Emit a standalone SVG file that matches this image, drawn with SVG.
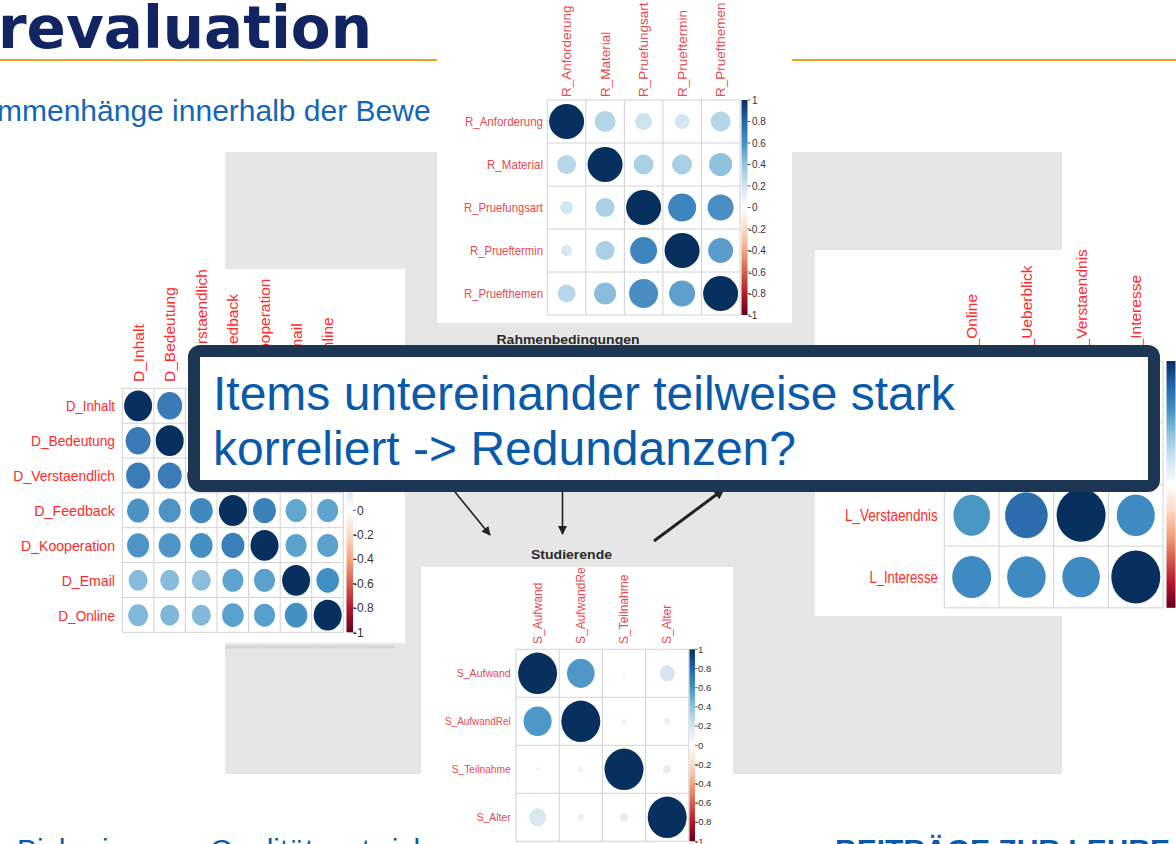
<svg xmlns="http://www.w3.org/2000/svg" width="1176" height="844" viewBox="0 0 1176 844">
<style>
  .lbl { font-family: "Liberation Sans", Arial, sans-serif; fill: #ff2a2a; }
  .lbl2 { font-family: "Liberation Sans", Arial, sans-serif; fill: #e84a4e; }
  .tick { font-family: "Liberation Sans", Arial, sans-serif; fill: #333333; }
  .grid { fill: none; stroke: #d2d2d2; stroke-width: 1; }
  .tk { stroke: #333333; stroke-width: 0.8; }
  .box { fill: #ffffff; }
  .hd { font-family: "Liberation Sans", Arial, sans-serif; font-weight: bold; fill: #2a2a2a; }
  .blue { font-family: "Liberation Sans", Arial, sans-serif; fill: #0a5aaa; }
  .conn { stroke: #222222; fill: none; }
</style>
<defs>
  <linearGradient id="rdbu" x1="0" y1="0" x2="0" y2="1">
    <stop offset="0" stop-color="#053061"/>
    <stop offset="0.1" stop-color="#2166ac"/>
    <stop offset="0.2" stop-color="#4393c3"/>
    <stop offset="0.3" stop-color="#92c5de"/>
    <stop offset="0.4" stop-color="#d1e5f0"/>
    <stop offset="0.5" stop-color="#ffffff"/>
    <stop offset="0.6" stop-color="#fddbc7"/>
    <stop offset="0.7" stop-color="#f4a582"/>
    <stop offset="0.8" stop-color="#d6604d"/>
    <stop offset="0.9" stop-color="#b2182b"/>
    <stop offset="1" stop-color="#67001f"/>
  </linearGradient>
  <marker id="ah" viewBox="0 0 10 10" refX="9" refY="5" markerUnits="userSpaceOnUse" markerWidth="11" markerHeight="9" orient="auto">
    <path d="M0,0 L10,5 L0,10 z" fill="#222222"/>
  </marker>
  <marker id="ah2" viewBox="0 0 10 10" refX="9" refY="5" markerUnits="userSpaceOnUse" markerWidth="14" markerHeight="11" orient="auto">
    <path d="M0,0 L10,5 L0,10 z" fill="#222222"/>
  </marker>
  <clipPath id="clipS"><rect x="421" y="567" width="312" height="277"/></clipPath>
  <clipPath id="clipD"><rect x="0" y="269" width="405" height="374"/></clipPath>
  <clipPath id="clipL"><rect x="815" y="250" width="361" height="366"/></clipPath>
</defs>

<!-- page -->
<rect x="0" y="0" width="1176" height="844" fill="#ffffff"/>

<!-- slide header -->
<g id="header">
  <text x="-2" y="48" font-family="'DejaVu Sans', sans-serif" font-weight="bold" font-size="58" fill="#122562">revaluation</text>
  <line x1="0" y1="60" x2="1176" y2="60" stroke="#f0a020" stroke-width="2"/>
  <text x="-3" y="121" font-family="'Liberation Sans', Arial, sans-serif" font-size="30" fill="#1565b5">mmenhänge innerhalb der Bewe</text>
</g>

<!-- footer line -->
<g id="footer">
  <text class="blue" x="17" y="860" font-size="30">Bisherige</text>
  <text class="blue" x="210" y="860" font-size="30">Qualitätsentwicklung</text>
  <text class="blue" x="835" y="860" font-size="30" font-weight="bold">BEITRÄGE ZUR LEHRE</text>
</g>

<!-- grey canvas behind the plots -->
<rect x="225" y="152" width="837" height="622" fill="#e6e6e6"/>
<line x1="225" y1="647" x2="395" y2="647" stroke="#d6d6d6" stroke-width="3"/>

<!-- Rahmenbedingungen plot -->
<g id="plot-R">
  <rect class="box" x="437" y="0" width="355" height="323"/>
  <path class="grid" d="M547.3,100V315M585.8,100V315M624.4,100V315M662.9,100V315M701.5,100V315M740,100V315M547.3,100H740M547.3,143H740M547.3,186H740M547.3,229H740M547.3,272H740M547.3,315H740"/>
  <g>
    <circle cx="566.6" cy="121.5" r="17.5" fill="#08305f"/>
    <circle cx="605.1" cy="121.5" r="10.5" fill="#b2d5e7"/>
    <circle cx="643.6" cy="121.5" r="8.5" fill="#cde3ef"/>
    <circle cx="682.1" cy="121.5" r="7.5" fill="#d3e6f1"/>
    <circle cx="720.6" cy="121.5" r="10" fill="#b4d6e8"/>
    <circle cx="566.6" cy="164.5" r="9.5" fill="#b8d8e9"/>
    <circle cx="605.1" cy="164.5" r="17.5" fill="#08305f"/>
    <circle cx="643.6" cy="164.5" r="10" fill="#a9d0e4"/>
    <circle cx="682.1" cy="164.5" r="10" fill="#a9d0e4"/>
    <circle cx="720.6" cy="164.5" r="11.5" fill="#8fc2dd"/>
    <circle cx="566.6" cy="207.5" r="6.5" fill="#d3e6f1"/>
    <circle cx="605.1" cy="207.5" r="9.5" fill="#a9d0e4"/>
    <circle cx="643.6" cy="207.5" r="17.5" fill="#08305f"/>
    <circle cx="682.1" cy="207.5" r="14" fill="#3e84bf"/>
    <circle cx="720.6" cy="207.5" r="13" fill="#4a8ec3"/>
    <circle cx="566.6" cy="250.5" r="5.5" fill="#d8e9f2"/>
    <circle cx="605.1" cy="250.5" r="9.5" fill="#a9d0e4"/>
    <circle cx="643.6" cy="250.5" r="13.5" fill="#3e84bf"/>
    <circle cx="682.1" cy="250.5" r="17.5" fill="#08305f"/>
    <circle cx="720.6" cy="250.5" r="12.5" fill="#5a9dcc"/>
    <circle cx="566.6" cy="293.5" r="9" fill="#b8d8e9"/>
    <circle cx="605.1" cy="293.5" r="11" fill="#8abddb"/>
    <circle cx="643.6" cy="293.5" r="14.5" fill="#4a8dc2"/>
    <circle cx="682.1" cy="293.5" r="13" fill="#5f9fcc"/>
    <circle cx="720.6" cy="293.5" r="17.5" fill="#08305f"/>
  </g>
  <g class="lbl2" font-size="13" text-anchor="end">
    <text x="543" y="126" textLength="78" lengthAdjust="spacingAndGlyphs">R_Anforderung</text>
    <text x="543" y="169" textLength="56" lengthAdjust="spacingAndGlyphs">R_Material</text>
    <text x="543" y="212" textLength="79" lengthAdjust="spacingAndGlyphs">R_Pruefungsart</text>
    <text x="543" y="255" textLength="73" lengthAdjust="spacingAndGlyphs">R_Prueftermin</text>
    <text x="543" y="298" textLength="79" lengthAdjust="spacingAndGlyphs">R_Pruefthemen</text>
  </g>
  <g class="lbl2" font-size="13.5">
    <text transform="translate(571.3,97) rotate(-90)">R_Anforderung</text>
    <text transform="translate(609.8,97) rotate(-90)">R_Material</text>
    <text transform="translate(648.3,97) rotate(-90)">R_Pruefungsart</text>
    <text transform="translate(686.8,97) rotate(-90)">R_Prueftermin</text>
    <text transform="translate(725.3,97) rotate(-90)">R_Pruefthemen</text>
  </g>
  <rect x="741.5" y="100" width="6" height="215" fill="url(#rdbu)"/>
  <path class="tk" d="M747.5,100h3M747.5,121.5h3M747.5,143h3M747.5,164.5h3M747.5,186h3M747.5,207.5h3M747.5,229h3M747.5,250.5h3M747.5,272h3M747.5,293.5h3M747.5,315h3"/>
  <g class="tick" font-size="10">
    <text x="752" y="103.5">1</text>
    <text x="752" y="125">0.8</text>
    <text x="752" y="146.5">0.6</text>
    <text x="752" y="168">0.4</text>
    <text x="752" y="189.5">0.2</text>
    <text x="752" y="211">0</text>
    <text x="748.5" y="232.5">-0.2</text>
    <text x="748.5" y="254">-0.4</text>
    <text x="748.5" y="275.5">-0.6</text>
    <text x="748.5" y="297">-0.8</text>
    <text x="748.5" y="318.5">-1</text>
  </g>
</g>

<!-- Dozierende plot -->
<g id="plot-D" clip-path="url(#clipD)">
  <rect class="box" x="0" y="269" width="405" height="374"/>
  <path class="grid" d="M122.3,388.3V632.3M153.9,388.3V632.3M185.4,388.3V632.3M217,388.3V632.3M248.6,388.3V632.3M280.2,388.3V632.3M311.7,388.3V632.3M343.3,388.3V632.3M122.3,388.3H343.3M122.3,423.2H343.3M122.3,458H343.3M122.3,492.9H343.3M122.3,527.7H343.3M122.3,562.6H343.3M122.3,597.4H343.3M122.3,632.3H343.3"/>
  <g>
    <ellipse cx="138.1" cy="405.8" rx="14" ry="15.4" fill="#08305f"/>
    <ellipse cx="169.7" cy="405.8" rx="12.5" ry="13.7" fill="#3a7ab6"/>
    <ellipse cx="201.3" cy="405.8" rx="12" ry="13.2" fill="#3a7cb8"/>
    <ellipse cx="232.9" cy="405.8" rx="11" ry="12.1" fill="#4a92c4"/>
    <ellipse cx="264.5" cy="405.8" rx="11" ry="12.1" fill="#4e95c6"/>
    <ellipse cx="296.1" cy="405.8" rx="9.5" ry="10.5" fill="#86bbdb"/>
    <ellipse cx="327.7" cy="405.8" rx="10" ry="11" fill="#82b8da"/>

    <ellipse cx="138.1" cy="440.7" rx="12.5" ry="13.7" fill="#3a7ab6"/>
    <ellipse cx="169.7" cy="440.7" rx="14" ry="15.4" fill="#08305f"/>
    <ellipse cx="201.3" cy="440.7" rx="12" ry="13.2" fill="#3a7cb8"/>
    <ellipse cx="232.9" cy="440.7" rx="11" ry="12.1" fill="#4d94c5"/>
    <ellipse cx="264.5" cy="440.7" rx="11" ry="12.1" fill="#4f96c6"/>
    <ellipse cx="296.1" cy="440.7" rx="9.5" ry="10.5" fill="#88bcdb"/>
    <ellipse cx="327.7" cy="440.7" rx="9.5" ry="10.5" fill="#7fb7d9"/>

    <ellipse cx="138.1" cy="475.6" rx="12" ry="13.2" fill="#3a7cb8"/>
    <ellipse cx="169.7" cy="475.6" rx="12" ry="13.2" fill="#3a7cb8"/>
    <ellipse cx="201.3" cy="475.6" rx="14" ry="15.4" fill="#08305f"/>
    <ellipse cx="232.9" cy="475.6" rx="11.5" ry="12.6" fill="#3f88c0"/>
    <ellipse cx="264.5" cy="475.6" rx="11.3" ry="12.4" fill="#4590c3"/>
    <ellipse cx="296.1" cy="475.6" rx="9.5" ry="10.5" fill="#8bbedc"/>
    <ellipse cx="327.7" cy="475.6" rx="9.5" ry="10.5" fill="#82b8da"/>

    <ellipse cx="138.1" cy="510.5" rx="11" ry="12.1" fill="#4a92c4"/>
    <ellipse cx="169.7" cy="510.5" rx="11" ry="12.1" fill="#4d94c5"/>
    <ellipse cx="201.3" cy="510.5" rx="11.5" ry="12.6" fill="#3f88c0"/>
    <ellipse cx="232.9" cy="510.5" rx="14" ry="15.4" fill="#08305f"/>
    <ellipse cx="264.5" cy="510.5" rx="11.5" ry="12.6" fill="#3a80bb"/>
    <ellipse cx="296.1" cy="510.5" rx="10.5" ry="11.5" fill="#62a7d0"/>
    <ellipse cx="327.7" cy="510.5" rx="10.5" ry="11.5" fill="#5ea4cf"/>

    <ellipse cx="138.1" cy="545.4" rx="11" ry="12.1" fill="#4e95c6"/>
    <ellipse cx="169.7" cy="545.4" rx="11" ry="12.1" fill="#4f96c6"/>
    <ellipse cx="201.3" cy="545.4" rx="11.3" ry="12.4" fill="#4590c3"/>
    <ellipse cx="232.9" cy="545.4" rx="11.5" ry="12.6" fill="#3a80bb"/>
    <ellipse cx="264.5" cy="545.4" rx="14" ry="15.4" fill="#08305f"/>
    <ellipse cx="296.1" cy="545.4" rx="10.5" ry="11.5" fill="#5ba2ce"/>
    <ellipse cx="327.7" cy="545.4" rx="10.5" ry="11.5" fill="#5aa1ce"/>

    <ellipse cx="138.1" cy="580.3" rx="9.5" ry="10.5" fill="#86bbdb"/>
    <ellipse cx="169.7" cy="580.3" rx="9.5" ry="10.5" fill="#88bcdb"/>
    <ellipse cx="201.3" cy="580.3" rx="9.5" ry="10.5" fill="#8bbedc"/>
    <ellipse cx="232.9" cy="580.3" rx="10.5" ry="11.5" fill="#5ea4cf"/>
    <ellipse cx="264.5" cy="580.3" rx="10.5" ry="11.5" fill="#5aa1ce"/>
    <ellipse cx="296.1" cy="580.3" rx="14" ry="15.4" fill="#08305f"/>
    <ellipse cx="327.7" cy="580.3" rx="11.3" ry="12.4" fill="#4290c3"/>

    <ellipse cx="138.1" cy="615.2" rx="10" ry="11" fill="#82b8da"/>
    <ellipse cx="169.7" cy="615.2" rx="9.5" ry="10.5" fill="#7fb7d9"/>
    <ellipse cx="201.3" cy="615.2" rx="9.5" ry="10.5" fill="#82b8da"/>
    <ellipse cx="232.9" cy="615.2" rx="10.8" ry="11.9" fill="#5aa1ce"/>
    <ellipse cx="264.5" cy="615.2" rx="10.5" ry="11.5" fill="#589fcd"/>
    <ellipse cx="296.1" cy="615.2" rx="11.3" ry="12.4" fill="#4590c3"/>
    <ellipse cx="327.7" cy="615.2" rx="14" ry="15.4" fill="#08305f"/>
  </g>
  <g class="lbl" font-size="15" text-anchor="end">
    <text x="115" y="411" textLength="49" lengthAdjust="spacingAndGlyphs">D_Inhalt</text>
    <text x="115" y="446" textLength="84" lengthAdjust="spacingAndGlyphs">D_Bedeutung</text>
    <text x="115" y="481" textLength="101.7" lengthAdjust="spacingAndGlyphs">D_Verstaendlich</text>
    <text x="115" y="516" textLength="80.7" lengthAdjust="spacingAndGlyphs">D_Feedback</text>
    <text x="115" y="551" textLength="94" lengthAdjust="spacingAndGlyphs">D_Kooperation</text>
    <text x="115" y="585.5" textLength="53.3" lengthAdjust="spacingAndGlyphs">D_Email</text>
    <text x="115" y="620.5" textLength="56.7" lengthAdjust="spacingAndGlyphs">D_Online</text>
  </g>
  <g class="lbl" font-size="15.5">
    <text transform="translate(143.6,382) rotate(-90)">D_Inhalt</text>
    <text transform="translate(175.2,382) rotate(-90)">D_Bedeutung</text>
    <text transform="translate(206.8,382) rotate(-90)">D_Verstaendlich</text>
    <text transform="translate(238.4,382) rotate(-90)">D_Feedback</text>
    <text transform="translate(270,382) rotate(-90)">D_Kooperation</text>
    <text transform="translate(301.6,382) rotate(-90)">D_Email</text>
    <text transform="translate(333.2,382) rotate(-90)">D_Online</text>
  </g>
  <rect x="346.5" y="388.3" width="6.5" height="244" fill="url(#rdbu)"/>
  <path class="tk" d="M353,388.3h3M353,412.7h3M353,437.1h3M353,461.5h3M353,485.9h3M353,510.3h3M353,534.7h3M353,559.1h3M353,583.5h3M353,607.9h3M353,632.3h3"/>
  <g class="tick" font-size="12">
    <text x="357" y="514.5">0</text>
    <text x="353" y="538.9">-0.2</text>
    <text x="353" y="563.3">-0.4</text>
    <text x="353" y="587.7">-0.6</text>
    <text x="353" y="612.1">-0.8</text>
    <text x="353" y="636.5">-1</text>
  </g>
</g>

<!-- Lernerfolg plot -->
<g id="plot-L" clip-path="url(#clipL)">
  <rect class="box" x="815" y="250" width="361" height="366"/>
  <path class="grid" d="M944.3,361V607.8M999,361V607.8M1053.7,361V607.8M1108.4,361V607.8M1163.1,361V607.8M944.3,361H1163.1M944.3,422.7H1163.1M944.3,484.4H1163.1M944.3,546.1H1163.1M944.3,607.8H1163.1"/>
  <g>
    <ellipse cx="971.7" cy="391.9" rx="24.5" ry="26.5" fill="#08305f"/>
    <ellipse cx="1026.4" cy="391.9" rx="20" ry="21.6" fill="#3a84be"/>
    <ellipse cx="1081.1" cy="391.9" rx="18.3" ry="19.8" fill="#4a96c5"/>
    <ellipse cx="1135.8" cy="391.9" rx="19.5" ry="21" fill="#3f8bc1"/>
    <ellipse cx="971.7" cy="453.6" rx="20" ry="21.6" fill="#3a84be"/>
    <ellipse cx="1026.4" cy="453.6" rx="24.5" ry="26.5" fill="#08305f"/>
    <ellipse cx="1081.1" cy="453.6" rx="21.3" ry="23" fill="#2b6dad"/>
    <ellipse cx="1135.8" cy="453.6" rx="19.3" ry="20.8" fill="#3f8bc1"/>
    <ellipse cx="971.7" cy="515.3" rx="18.3" ry="20.5" fill="#4a96c5"/>
    <ellipse cx="1026.4" cy="515.3" rx="21.3" ry="23" fill="#2b6dad"/>
    <ellipse cx="1081.1" cy="515.3" rx="24.5" ry="26.5" fill="#08305f"/>
    <ellipse cx="1135.8" cy="515.3" rx="19" ry="20.8" fill="#3f8bc1"/>
    <ellipse cx="971.7" cy="577" rx="19.5" ry="21" fill="#3f8bc1"/>
    <ellipse cx="1026.4" cy="577" rx="19.3" ry="20.8" fill="#3f8bc1"/>
    <ellipse cx="1081.1" cy="577" rx="18.8" ry="20.3" fill="#3f8bc1"/>
    <ellipse cx="1135.8" cy="577" rx="24.5" ry="26.5" fill="#08305f"/>
  </g>
  <g class="lbl" font-size="17" text-anchor="end">
    <text x="937.7" y="521.2" textLength="92.7" lengthAdjust="spacingAndGlyphs">L_Verstaendnis</text>
    <text x="937.7" y="582.9" textLength="68.3" lengthAdjust="spacingAndGlyphs">L_Interesse</text>
  </g>
  <g class="lbl" font-size="15.5">
    <text transform="translate(977.2,356) rotate(-90)">L_Online</text>
    <text transform="translate(1031.9,356) rotate(-90)">L_Ueberblick</text>
    <text transform="translate(1086.6,356) rotate(-90)">L_Verstaendnis</text>
    <text transform="translate(1141.3,356) rotate(-90)">L_Interesse</text>
  </g>
  <rect x="1166.5" y="361" width="9" height="246.8" fill="url(#rdbu)"/>
</g>

<!-- Studierende plot -->
<g id="plot-S" clip-path="url(#clipS)">
  <rect class="box" x="421" y="567" width="312" height="277"/>
  <path class="grid" d="M516,649.3V841.3M559.2,649.3V841.3M602.4,649.3V841.3M645.6,649.3V841.3M688.8,649.3V841.3M516,649.3H688.8M516,697.3H688.8M516,745.3H688.8M516,793.3H688.8M516,841.3H688.8"/>
  <g>
    <ellipse cx="537.6" cy="673.3" rx="19.5" ry="20.7" fill="#08305f"/>
    <ellipse cx="580.8" cy="673.3" rx="13.8" ry="14.6" fill="#4f97c8"/>
    <ellipse cx="624" cy="673.3" rx="1.8" ry="1.9" fill="#f2f6f9"/>
    <ellipse cx="667.2" cy="673.3" rx="7.5" ry="8" fill="#d5e6f2"/>
    <ellipse cx="537.6" cy="721.3" rx="14" ry="14.8" fill="#4f97c8"/>
    <ellipse cx="580.8" cy="721.3" rx="19.5" ry="20.7" fill="#08305f"/>
    <ellipse cx="624" cy="721.3" rx="2.5" ry="2.6" fill="#eef3f6"/>
    <ellipse cx="667.2" cy="721.3" rx="3" ry="3.2" fill="#eef2f5"/>
    <ellipse cx="537.6" cy="769.3" rx="2" ry="2.1" fill="#f2f6f8"/>
    <ellipse cx="580.8" cy="769.3" rx="2.5" ry="2.6" fill="#eef3f6"/>
    <ellipse cx="624" cy="769.3" rx="19.5" ry="20.7" fill="#08305f"/>
    <ellipse cx="667.2" cy="769.3" rx="4" ry="4.2" fill="#e6eef4"/>
    <ellipse cx="537.6" cy="817.3" rx="8.5" ry="9" fill="#d9e7f1"/>
    <ellipse cx="580.8" cy="817.3" rx="3" ry="3.2" fill="#eef2f5"/>
    <ellipse cx="624" cy="817.3" rx="4" ry="4.2" fill="#e3edf5"/>
    <ellipse cx="667.2" cy="817.3" rx="19.5" ry="20.7" fill="#08305f"/>
  </g>
  <g class="lbl2" font-size="11.5" text-anchor="end">
    <text x="510.7" y="677.3" textLength="54" lengthAdjust="spacingAndGlyphs">S_Aufwand</text>
    <text x="510.7" y="725.3" textLength="65.7" lengthAdjust="spacingAndGlyphs">S_AufwandRel</text>
    <text x="510.7" y="773.3" textLength="59" lengthAdjust="spacingAndGlyphs">S_Teilnahme</text>
    <text x="510.7" y="821.3" textLength="34" lengthAdjust="spacingAndGlyphs">S_Alter</text>
  </g>
  <g class="lbl2" font-size="12">
    <text transform="translate(541.8,644) rotate(-90)">S_Aufwand</text>
    <text transform="translate(585,644) rotate(-90)">S_AufwandRel</text>
    <text transform="translate(628.2,644) rotate(-90)">S_Teilnahme</text>
    <text transform="translate(671.4,644) rotate(-90)">S_Alter</text>
  </g>
  <rect x="689.5" y="649.3" width="5.5" height="192" fill="url(#rdbu)"/>
  <path class="tk" d="M695,649.3h2.5M695,668.5h2.5M695,687.7h2.5M695,706.9h2.5M695,726.1h2.5M695,745.3h2.5M695,764.5h2.5M695,783.7h2.5M695,802.9h2.5M695,822.1h2.5M695,841.3h2.5"/>
  <g class="tick" font-size="9.5">
    <text x="698" y="652.6">1</text>
    <text x="698" y="671.8">0.8</text>
    <text x="698" y="691">0.6</text>
    <text x="698" y="710.2">0.4</text>
    <text x="698" y="729.4">0.2</text>
    <text x="698" y="748.6">0</text>
    <text x="695" y="767.8">-0.2</text>
    <text x="695" y="787">-0.4</text>
    <text x="695" y="806.2">-0.6</text>
    <text x="695" y="825.4">-0.8</text>
    <text x="695" y="844.6">-1</text>
  </g>
</g>

<!-- group titles on the canvas -->
<g id="title-R">
  <text class="hd" x="568" y="344" font-size="13" text-anchor="middle" textLength="143" lengthAdjust="spacingAndGlyphs">Rahmenbedingungen</text>
</g>
<g id="title-S">
  <text class="hd" x="571.5" y="559" font-size="13" text-anchor="middle" textLength="81" lengthAdjust="spacingAndGlyphs">Studierende</text>
</g>

<!-- connectors -->
<g id="connectors">
  <line class="conn" x1="455" y1="492" x2="490" y2="535" stroke-width="1.6" marker-end="url(#ah)"/>
  <line class="conn" x1="562.5" y1="492" x2="562.5" y2="534" stroke-width="1.6" marker-end="url(#ah)"/>
  <line class="conn" x1="654" y1="541" x2="724" y2="489" stroke-width="3" marker-end="url(#ah2)"/>
</g>

<!-- callout -->
<g id="callout">
  <rect x="194" y="351" width="960" height="135" rx="6" fill="#ffffff" stroke="#1c3654" stroke-width="12"/>
  <text class="blue" x="213" y="410" font-size="48">Items untereinander teilweise stark</text>
  <text class="blue" x="213" y="465" font-size="48">korreliert -&gt; Redundanzen?</text>
</g>
</svg>
